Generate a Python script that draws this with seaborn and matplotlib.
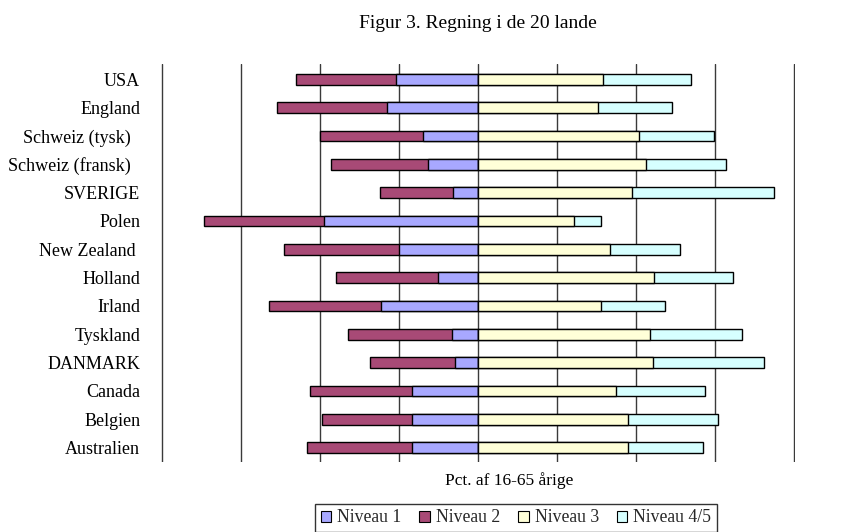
import matplotlib
matplotlib.use("Agg")
import matplotlib.pyplot as plt
from matplotlib.patches import Patch
import seaborn as sns
import pandas as pd

countries = ["USA", "England", "Schweiz (tysk)  ", "Schweiz (fransk)  ", "SVERIGE", "Polen",
             "New Zealand ", "Holland", "Irland", "Tyskland", "DANMARK", "Canada",
             "Belgien", "Australien"]
niveau1 = [10.4, 11.5, 7.0, 6.3, 3.1, 19.5, 10.0, 5.0, 12.3, 3.3, 2.9, 8.3, 8.3, 8.3]
niveau2 = [12.6, 13.9, 13.0, 12.3, 9.3, 15.1, 14.5, 12.9, 14.2, 13.2, 10.8, 13.0, 11.4, 13.3]
niveau3 = [15.8, 15.2, 20.4, 21.2, 19.5, 12.1, 16.7, 22.3, 15.5, 21.7, 22.1, 17.5, 19.0, 19.0]
niveau45 = [11.2, 9.3, 9.5, 10.2, 18.0, 3.4, 8.8, 9.9, 8.2, 11.7, 14.1, 11.2, 11.3, 9.5]
series_names = ["Niveau 1", "Niveau 2", "Niveau 3", "Niveau 4/5"]
colors = ["#A8A8FF", "#A84A76", "#FFFFD8", "#D6FFFF"]
title = "Figur 3. Regning i de 20 lande"
xlabel = "Pct. af 16-65 årige"

df = pd.DataFrame({"land": countries, "n1": niveau1, "n2": niveau2,
                   "n3": niveau3, "n45": niveau45})
df["neg_outer"] = -(df["n1"] + df["n2"])
df["neg_inner"] = -df["n1"]
df["pos_outer"] = df["n3"] + df["n45"]
df["pos_inner"] = df["n3"]

sns.set_theme(style="white")
plt.rcParams["font.family"] = ["Liberation Serif", "DejaVu Serif"]

fig = plt.figure(figsize=(8.63, 5.32), dpi=100)
ax = fig.add_axes([161 / 863, 1 - 462 / 532, (795 - 161) / 863, (462 - 64) / 532])

bar_w = 0.38
kw = dict(orient="h", edgecolor="black", linewidth=1.0, width=bar_w, ax=ax, zorder=3)
sns.barplot(data=df, x="neg_outer", y="land", color=colors[1], saturation=1, **kw)
sns.barplot(data=df, x="neg_inner", y="land", color=colors[0], saturation=1, **kw)
sns.barplot(data=df, x="pos_outer", y="land", color=colors[3], saturation=1, **kw)
sns.barplot(data=df, x="pos_inner", y="land", color=colors[2], saturation=1, **kw)

ax.set_xlim(-40.1, 40.1)
ax.set_ylim(13.51, -0.54)
ax.set_xticks(range(-40, 41, 10))
ax.set_xticklabels([])
ax.grid(axis="x", color="#3a3a3a", linewidth=1.0, zorder=0)
ax.set_axisbelow(True)
for s in ax.spines.values():
    s.set_visible(False)
ax.set_xlabel("")
ax.set_ylabel("")
ax.tick_params(axis="y", length=0, pad=15, labelsize=13, labelcolor="black")
ax.tick_params(axis="x", length=0)

fig.text(478 / 863, 1 - 24 / 532, title, ha="center", va="center", fontsize=14, color="black")
fig.text(509 / 863, 1 - 481 / 532, xlabel, ha="center", va="center", fontsize=12.5, color="black")

handles = [Patch(facecolor=c, edgecolor="black", linewidth=0.8) for c in colors]
leg = fig.legend(handles, series_names, loc="center", ncol=4,
                 bbox_to_anchor=(516 / 863, 1 - 518 / 532), fontsize=12.7,
                 frameon=True, fancybox=False, handlelength=0.6, handleheight=0.6,
                 handletextpad=0.35, columnspacing=1.0, borderpad=0.3, borderaxespad=0)
leg.get_frame().set_edgecolor("black")
leg.get_frame().set_linewidth(1.0)

fig.savefig("out.png", dpi=100)
